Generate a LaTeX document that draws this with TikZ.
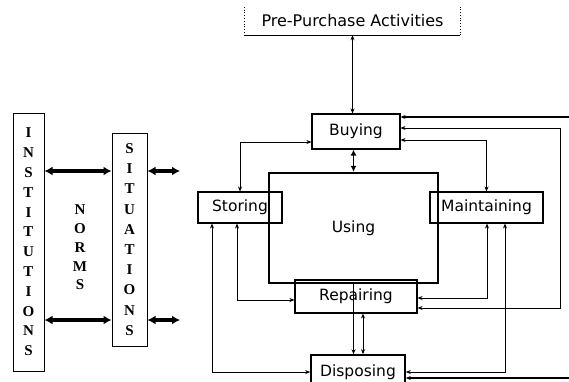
\documentclass[tikz,border=0pt]{standalone}
\usepackage{fontspec}
\setmainfont{DejaVu Sans}
\newfontfamily\letterfont{Liberation Serif}
\usetikzlibrary{arrows.meta}

\begin{document}
\begin{tikzpicture}[x=1pt,y=-1pt,
  box/.style={draw,line width=1.1pt,inner sep=0pt,font=\fontsize{15.5}{18}\selectfont},
  column/.style={draw,line width=1pt,inner sep=0pt,align=center,font=\letterfont\bfseries\fontsize{15}{19.8}\selectfont},
  link/.style={line width=0.7pt,<->,>={Stealth[length=5pt,width=4pt]}},
  bigarrow/.style={line width=3.5pt,<->,>={Latex[length=8pt,width=9pt]}}]

            \useasboundingbox (0,0) rectangle (569,381);
            \clip (0,0) rectangle (569,381);

            % left part
            \node[column,minimum width=31pt,minimum height=258pt] (inst) at (28.5,242) {I\\N\\S\\T\\I\\T\\U\\T\\I\\O\\N\\S};
            \node[column,minimum width=35pt,minimum height=213pt,font=\letterfont\bfseries\fontsize{15}{20.2}\selectfont] (sit) at (129.5,239.5) {S\\I\\T\\U\\A\\T\\I\\O\\N\\S};
            \node[align=center,inner sep=0pt,font=\letterfont\bfseries\fontsize{15}{18.75}\selectfont] (norms) at (80,247.5) {N\\O\\R\\M\\S};

            \foreach \y in {171,320}{
              \coordinate (out\y) at (180,\y);
              \draw[bigarrow] (inst.east |- 0,\y) -- (sit.west |- 0,\y);
              \draw[bigarrow] (sit.east |- 0,\y) -- (out\y);
            }

            % activities
            \node[inner sep=0pt,minimum width=215pt,minimum height=28pt,font=\fontsize{16}{19}\selectfont] (pre) at (352.5,21) {Pre-Purchase Activities};
            \draw[dotted,line width=0.8pt] (pre.north west) -- (pre.south west);
            \draw[line width=1.1pt] (pre.south west) -- (pre.south east);
            \draw[dotted,line width=0.8pt] (pre.south east) -- (pre.north east);

            \node[box,minimum width=88pt,minimum height=35pt] (buy) at (356,131.5) {Buying};
            \node[box,line width=2.4pt,minimum width=169pt,minimum height=110pt] (use) at (353.5,228) {Using};
            \node[box,minimum width=84pt,minimum height=31pt] (stor) at (240,207.5) {Storing};
            \node[box,minimum width=113pt,minimum height=31pt] (maint) at (486.5,207.5) {Maintaining};
            \node[box,minimum width=122pt,minimum height=33pt] (rep) at (356,296.5) {Repairing};
            \node[box,line width=1.6pt,minimum width=94pt,minimum height=34pt] (disp) at (358,372) {Disposing};

            \draw[link] (pre.south) -- (pre.south |- buy.north);
            \draw[line width=1.6pt,<->,>={Latex[length=6pt,width=6pt]}] (use.north |- buy.south) -- (use.north);
            \draw[link] (buy.west |- 0,142) -| (stor.north);
            \draw[link] (buy.east |- 0,140) -| (maint.north);

            \draw[link] (stor.south -| 237,0) |- (rep.west |- 0,300);
            \draw[link] (stor.south -| 212,0) |- (disp.west |- 0,372);
            \draw[link] (maint.south -| 487,0) |- (rep.east |- 0,298);
            \draw[link] (maint.south -| 505,0) |- (disp.east |- 0,372);

            \coordinate (rt) at (560,218);
            \draw[link] (buy.east |- 0,128) -| (rt) |- (rep.east |- 0,308);
            \coordinate (loop) at (600,250);
            \draw[link,line width=1.4pt] (disp.east |- 0,378) -| (loop) |- (buy.east |- 0,117);

            \draw[link,<-] (disp.north -| use.south) -- (use.south);
            \draw[link] (rep.south -| 363,0) -- (disp.north -| 363,0);

\end{tikzpicture}
\end{document}
